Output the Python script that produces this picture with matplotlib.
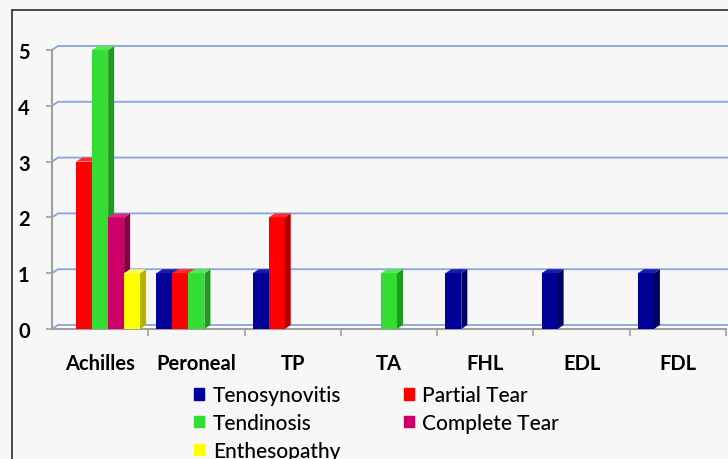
import matplotlib
matplotlib.use("Agg")
import matplotlib.pyplot as plt
import numpy as np
from matplotlib.patches import Rectangle

categories = ["Achilles", "Peroneal", "TP", "TA", "FHL", "EDL", "FDL"]
series_names = ["Tenosynovitis", "Partial Tear", "Tendinosis", "Complete Tear", "Enthesopathy"]
tenosynovitis = [0, 1, 1, 0, 1, 1, 1]
partial_tear = [3, 1, 2, 0, 0, 0, 0]
tendinosis = [5, 1, 0, 1, 0, 0, 0]
complete_tear = [2, 0, 0, 0, 0, 0, 0]
enthesopathy = [1, 0, 0, 0, 0, 0, 0]
y_ticks = [0, 1, 2, 3, 4, 5]

front_colors = ['#000099', '#ff0000', '#33dd33', '#cc0066', '#ffff00']
side_colors = ['#00005e', '#b30000', '#1f9a1f', '#880044', '#b3b300']
top_colors = ['#1a1ab0', '#ff2a2a', '#55e855', '#dd2a80', '#ffff66']

plt.rcParams['font.family'] = ['Lato', 'DejaVu Sans']

W, H = 728, 460
fig = plt.figure(figsize=(W / 100, H / 100), dpi=100, facecolor='#f7f7f7')
fig.add_artist(Rectangle((12 / W, -0.1), 1.2, (H - 11) / H + 0.1,
                         transform=fig.transFigure, fill=False,
                         edgecolor='#3a3a3a', lw=1.3))

ax = fig.add_axes([52 / W, (H - 330) / H, (726 - 52) / W, (330 - 51) / H])
ax.set_facecolor('none')
n = len(categories)
ax.set_xlim(-0.5, n - 0.5)
ax.set_ylim(0, 5)

dx = 6 * n / 674.0
dy = 4 * 5 / 279.0

# floor
ax.fill([-0.5, -0.5 + dx, n - 0.5 + dx, n - 0.5], [0, dy, dy, 0],
        color='white', lw=0, zorder=0.5, clip_on=False)
# gridlines on back wall
for yv in y_ticks:
    ax.plot([-0.5, -0.5 + dx, n - 0.5 + 2 * dx], [yv, yv + dy, yv + dy],
            color='#8eaadb', lw=1.4, clip_on=False, zorder=1)

series = [tenosynovitis, partial_tear, tendinosis, complete_tear, enthesopathy]
w = 0.166
start = -0.415
x = np.arange(n)
for j, vals in enumerate(series):
    vals = np.array(vals, float)
    lefts = x + start + j * w
    mask = vals > 0
    ax.bar(lefts[mask], vals[mask], width=w, align='edge',
           color=front_colors[j], zorder=3 + j, lw=0)
    for l, v in zip(lefts[mask], vals[mask]):
        ax.fill([l + w, l + w + dx, l + w + dx, l + w], [0, dy, v + dy, v],
                color=side_colors[j], zorder=3 + j, lw=0, clip_on=False)
        ax.fill([l, l + dx, l + w + dx, l + w], [v, v + dy, v + dy, v],
                color=top_colors[j], zorder=3 + j, lw=0, clip_on=False)

for s in ['top', 'right']:
    ax.spines[s].set_visible(False)
ax.spines['left'].set_color('#a0a0a0')
ax.spines['left'].set_linewidth(1.5)
ax.spines['bottom'].set_color('#a0a0a0')
ax.spines['bottom'].set_linewidth(1.5)

ax.set_yticks(y_ticks)
ax.set_yticklabels([str(t) for t in y_ticks], fontsize=14.5, fontweight='bold')
ax.tick_params(axis='y', length=4, color='#a0a0a0', width=1.2, pad=12)

ax.set_xticks(x)
ax.set_xticklabels(categories, fontsize=14.5, fontweight='bold')
ax.tick_params(axis='x', which='major', length=0, pad=17)
ax.set_xticks(np.arange(n) + 0.5, minor=True)
ax.tick_params(axis='x', which='minor', length=5, color='#a0a0a0', width=1.2)

handles = [Rectangle((0, 0), 1, 1, color=c) for c in front_colors]
order = [0, 2, 4, 1, 3]
fig.legend([handles[i] for i in order], [series_names[i] for i in order],
           ncol=2, loc='upper left', bbox_to_anchor=(194 / W, 1 - 386 / H),
           frameon=False, fontsize=15, handlelength=0.5, handleheight=0.5,
           handletextpad=0.4, columnspacing=3.0, labelspacing=0.38,
           borderpad=0, borderaxespad=0,
           prop={'size': 15, 'weight': 'medium'})

fig.savefig('out.png', dpi=100, facecolor=fig.get_facecolor())
